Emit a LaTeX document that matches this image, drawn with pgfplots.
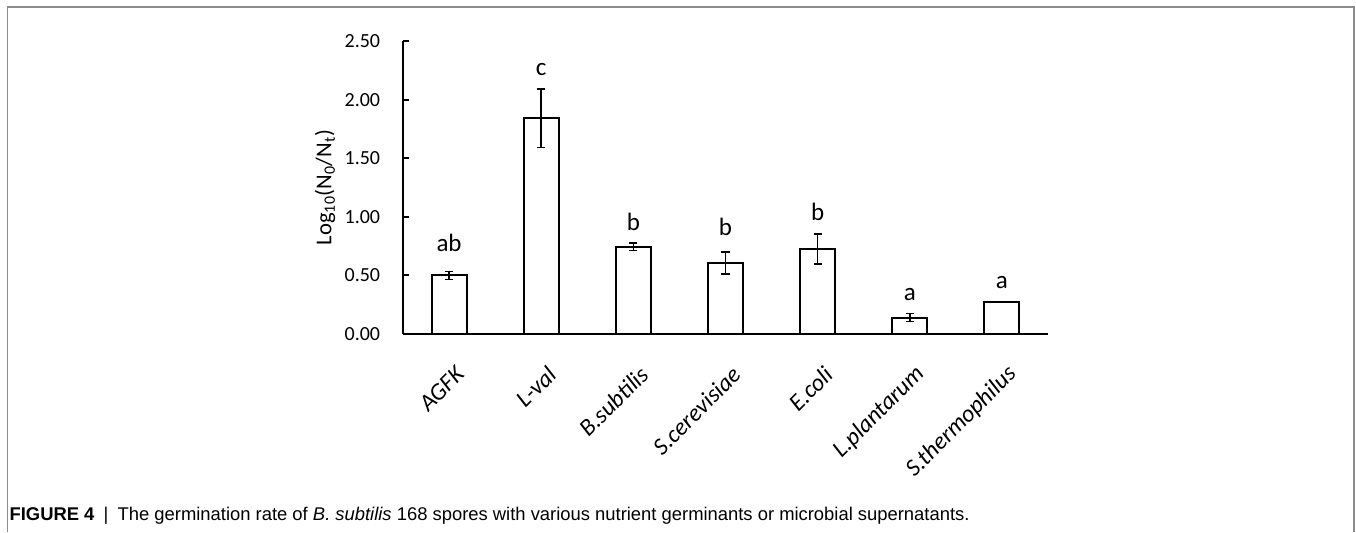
\documentclass[border=0pt]{standalone}
\usepackage{fontspec}
\setmainfont{Carlito}
\newfontfamily\capfont{Liberation Sans}
\usepackage{pgfplots}
\pgfplotsset{compat=1.18}
\begin{document}
\begin{tikzpicture}
\path (0pt,0pt) rectangle (1017pt,399pt);
\draw[color={rgb,255:red,140;green,140;blue,140}, line width=0.9pt] (5.85pt,0pt) -- (5.85pt,393.75pt) -- (1015.5pt,393.75pt) -- (1015.5pt,0pt);
\begin{axis}[
  at={(302.25pt,148.5pt)}, anchor=south west,
  scale only axis, width=483.75pt, height=219.75pt,
  xmin=-0.5, xmax=6.5, ymin=0, ymax=2.5,
  axis x line*=bottom, axis y line*=left,
  axis line style={line width=1.5pt, black},
  ytick={0,0.5,1,1.5,2,2.5},
  tick align=inside, major tick length=4.5pt,
  ytick style={line width=1.5pt, black},
  xtick={0,1,2,3,4,5,6},
  xtick style={draw=none},
  xticklabels={AGFK,L-val,B.subtilis,S.cerevisiae,E.coli,L.plantarum,S.thermophilus},
  xticklabel style={font=\fontsize{18}{21}\selectfont\itshape, inner sep=0pt, xshift=8.25pt, yshift=-27.4pt, rotate=45, anchor=east},
  yticklabel style={font=\fontsize{15}{18}\selectfont, inner sep=0pt, anchor=east, xshift=-17pt,
    /pgf/number format/.cd, fixed, fixed zerofill, precision=2, assume math mode=true},
  ylabel={Log\textsubscript{10}(N\textsubscript{0}/N\textsubscript{t})},
  every axis y label/.style={at={(axis description cs:-0.121,0.5)}, rotate=90, anchor=center, font=\fontsize{17}{20}\selectfont},
  clip=false,
]
\addplot[ybar, bar width=0.38, draw=black, fill=white, line width=1.5pt,
  error bars/.cd, y dir=both, y explicit,
  error bar style={line width=1.1pt, black},
  error mark options={rotate=90, mark size=3.1pt, line width=1.1pt, black}]
  coordinates {
  (0,0.50) +- (0,0.035)
  (1,1.84) +- (0,0.25)
  (2,0.745) +- (0,0.033)
  (3,0.605) +- (0,0.094)
  (4,0.725) +- (0,0.128)
  (5,0.14) +- (0,0.034)
  (6,0.275) +- (0,0)
  };
\node[anchor=base, font=\fontsize{18.75}{22}\selectfont] at (axis cs:0,0.70) {ab};
\node[anchor=base, font=\fontsize{18.75}{22}\selectfont] at (axis cs:1,2.206) {c};
\node[anchor=base, font=\fontsize{18.75}{22}\selectfont] at (axis cs:2,0.886) {b};
\node[anchor=base, font=\fontsize{18.75}{22}\selectfont] at (axis cs:3,0.843) {b};
\node[anchor=base, font=\fontsize{18.75}{22}\selectfont] at (axis cs:4,0.971) {b};
\node[anchor=base, font=\fontsize{18.75}{22}\selectfont] at (axis cs:5,0.29) {a};
\node[anchor=base, font=\fontsize{18.75}{22}\selectfont] at (axis cs:6,0.392) {a};
\end{axis}
\node[anchor=base west, inner sep=0pt, font=\capfont\fontsize{13.8}{16}\selectfont] at (7pt,9pt)
  {\textbf{FIGURE 4}\enspace|\enspace The germination rate of \textit{B. subtilis} 168 spores with various nutrient germinants or microbial supernatants.};
\end{tikzpicture}
\end{document}
